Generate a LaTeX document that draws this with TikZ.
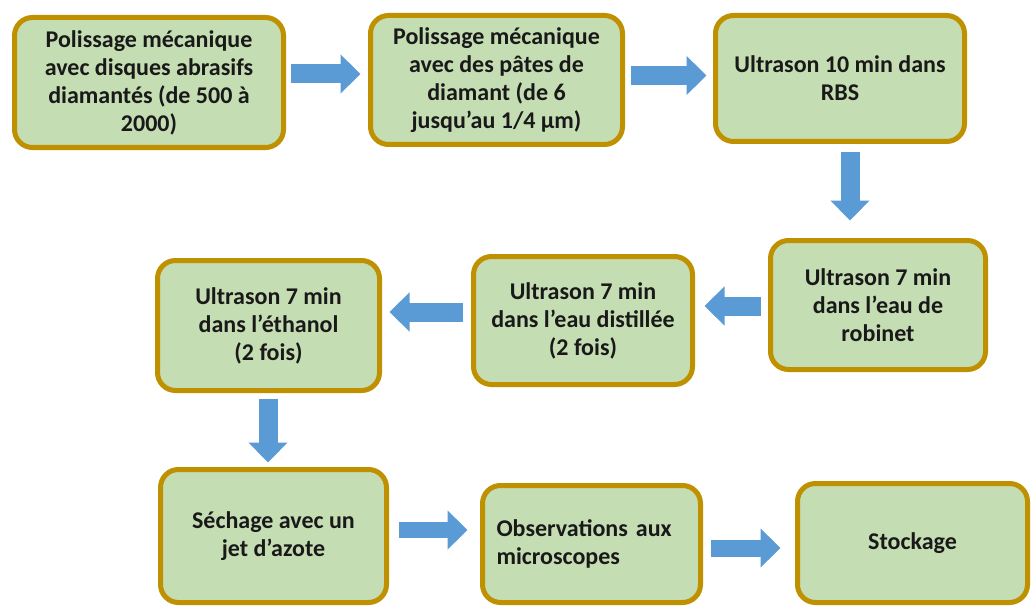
\documentclass[tikz,border=0pt]{standalone}
\usepackage{fontspec}
\setmainfont{Carlito}
\usetikzlibrary{calc,arrows.meta}
\definecolor{boxborder}{HTML}{BF9000}
\definecolor{boxfill}{HTML}{C5DDB3}
\definecolor{arrowblue}{HTML}{5B9BD5}
\tikzset{
  box/.style={draw=boxborder, line width=5pt, fill=boxfill, rounded corners=18pt,
    inner sep=0pt, align=center, font=\fontsize{24}{28}\selectfont\bfseries, text=black!90},
  barrow/.style={draw=arrowblue, line width=19pt, -{Triangle[length=20pt,width=38pt]}}
}
\begin{document}
\begin{tikzpicture}[x=1pt,y=-1pt]
\useasboundingbox (0,0) rectangle (1033,607);
\fill[white] (0,0) rectangle (1033,607);
\node[box, minimum width=269pt, minimum height=130pt] (b1) at (149,82.5)
  {Polissage mécanique\\avec disques abrasifs\\diamantés (de 500 à\\2000)};
\node[box, minimum width=252pt, minimum height=129pt] (b2) at (496.5,80)
  {Polissage mécanique\\avec des pâtes de\\diamant (de 6\\jusqu’au 1/4 µm)};
\node[box, minimum width=249pt, minimum height=126pt] (b3) at (840,78.5)
  {Ultrason 10 min dans\\RBS};
\node[box, minimum width=215pt, minimum height=129pt] (b4) at (878,305)
  {Ultrason 7 min\\dans l’eau de\\robinet};
\node[box, minimum width=219pt, minimum height=128pt] (b5) at (583,320.5)
  {Ultrason 7 min\\dans l’eau distillée\\(2 fois)};
\node[box, minimum width=222pt, minimum height=130pt] (b6) at (268.5,325.5)
  {Ultrason 7 min\\dans l’éthanol\\(2 fois)};
\node[box, minimum width=226pt, minimum height=133pt] (b7) at (273.5,536)
  {Séchage avec un\\jet d’azote};
\node[box, minimum width=218pt, minimum height=117pt, align=left, text width=190pt] (b8) at (591.5,544)
  {Observations aux\\microscopes};
\node[box, minimum width=230pt, minimum height=119pt] (b9) at (912.5,543)
  {Stockage};
% connectors
\coordinate (s1) at ($(b1.east)+(4.5,-8.5)$);
\draw[barrow, shorten >=7.5pt] (s1) -- (s1 -| b2.west);
\coordinate (s2) at ($(b2.east)+(5.5,-4.5)$);
\draw[barrow, shorten >=6.5pt] (s2) -- (s2 -| b3.west);
\coordinate (s3) at ($(b3.south)+(10,7.5)$);
\draw[barrow, shorten >=17.5pt] (s3) -- (s3 |- b4.north);
\coordinate (s4) at ($(b4.west)+(-7.5,1)$);
\draw[barrow, shorten >=9.5pt] (s4) -- (s4 -| b5.east);
\coordinate (s5) at ($(b5.west)+(-8.5,-8.5)$);
\draw[barrow, shorten >=7.5pt] (s5) -- (s5 -| b6.east);
\coordinate (s6) at ($(b6.south)+(-0.5,5.5)$);
\draw[barrow, shorten >=4.5pt] (s6) -- (s6 |- b7.north);
\coordinate (s7) at ($(b7.east)+(9.5,-6)$);
\draw[barrow, line width=16pt, shorten >=12.5pt] (s7) -- (s7 -| b8.west);
\coordinate (s8) at ($(b8.east)+(7.5,4)$);
\draw[barrow, line width=17pt, shorten >=14.5pt] (s8) -- (s8 -| b9.west);
\end{tikzpicture}
\end{document}
